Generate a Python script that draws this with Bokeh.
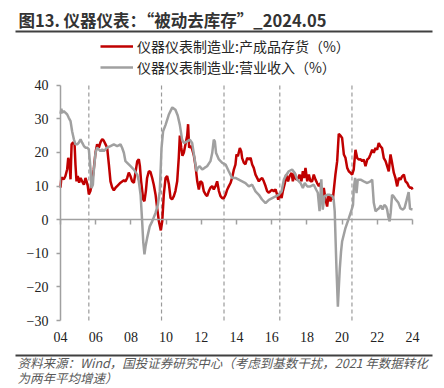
from bokeh.plotting import figure
from bokeh.models import (ColumnDataSource, Label, Legend, LegendItem, LinearAxis,
                          FixedTicker, BoxAnnotation, Range1d, CustomJSTickFormatter)
from bokeh.embed import file_html
from bokeh.resources import INLINE

# ---------------- data ----------------
inv_years = [2004.00, 2004.05, 2004.09, 2004.19, 2004.28, 2004.38, 2004.44, 2004.51, 2004.57, 2004.63,
             2004.72, 2004.80, 2004.85, 2004.91, 2004.98, 2005.06, 2005.14, 2005.23, 2005.33, 2005.42,
             2005.48, 2005.55, 2005.61, 2005.70, 2005.80, 2005.89, 2005.99, 2006.08, 2006.18, 2006.27,
             2006.37, 2006.46, 2006.56, 2006.65, 2006.75, 2006.84, 2006.94, 2007.03, 2007.13, 2007.22,
             2007.41, 2007.60, 2007.69, 2007.79, 2007.88, 2007.98, 2008.07, 2008.17, 2008.26, 2008.36,
             2008.45, 2008.51, 2008.58, 2008.70, 2008.77, 2008.85, 2008.92, 2009.02, 2009.11, 2009.21,
             2009.30, 2009.40, 2009.49, 2009.59, 2009.70, 2009.78, 2009.87, 2009.97, 2010.06, 2010.16,
             2010.25, 2010.34, 2010.44, 2010.53, 2010.63, 2010.72, 2010.78, 2010.86, 2010.93, 2011.01,
             2011.10, 2011.20, 2011.25, 2011.31, 2011.39, 2011.48, 2011.58, 2011.67, 2011.77, 2011.86,
             2011.95, 2012.05, 2012.14, 2012.24, 2012.33, 2012.43, 2012.52, 2012.62, 2012.71, 2012.81,
             2012.90, 2013.00, 2013.09, 2013.19, 2013.28, 2013.38, 2013.47, 2013.56, 2013.66, 2013.75,
             2013.85, 2013.94, 2014.00, 2014.08, 2014.19, 2014.27, 2014.32, 2014.42, 2014.51, 2014.61,
             2014.70, 2014.80, 2014.89, 2014.98, 2015.08, 2015.27, 2015.36, 2015.46, 2015.55, 2015.65,
             2015.74, 2015.84, 2015.93, 2016.03, 2016.12, 2016.22, 2016.31, 2016.37, 2016.46, 2016.56,
             2016.63, 2016.75, 2016.82, 2016.93, 2017.01, 2017.13, 2017.20, 2017.31, 2017.39, 2017.51,
             2017.58, 2017.69, 2017.77, 2017.84, 2017.92, 2018.02, 2018.11, 2018.20, 2018.30, 2018.39,
             2018.49, 2018.58, 2018.68, 2018.77, 2018.87, 2018.96, 2019.06, 2019.15, 2019.23, 2019.34,
             2019.40, 2019.47, 2019.55, 2019.62, 2019.72, 2019.78, 2019.81, 2019.91, 2020.00, 2020.10,
             2020.19, 2020.29, 2020.38, 2020.48, 2020.57, 2020.66, 2020.76, 2020.86, 2020.95, 2021.05,
             2021.14, 2021.23, 2021.33, 2021.43, 2021.52, 2021.61, 2021.71, 2021.80, 2021.90, 2021.99,
             2022.08, 2022.18, 2022.27, 2022.37, 2022.47, 2022.56, 2022.65, 2022.75, 2022.84, 2022.94,
             2023.03, 2023.13, 2023.22, 2023.32, 2023.41, 2023.51, 2023.60, 2023.70, 2023.79, 2023.89,
             2023.95, 2024.00]
inv_values = [9.5, 12.5, 12.4, 12.0, 13.0, 15.0, 18.4, 16.9, 12.0, 22.4,
              23.0, 22.4, 16.4, 11.4, 13.0, 11.0, 12.4, 11.4, 10.4, 12.4,
              11.4, 10.0, 7.5, 8.5, 11.4, 15.0, 20.0, 22.4, 21.4, 23.0,
              24.0, 23.5, 22.4, 21.4, 16.4, 11.4, 9.5, 8.7, 9.5, 10.0,
              11.0, 11.7, 11.4, 12.4, 14.0, 12.9, 11.4, 11.0, 14.0, 17.4,
              18.0, 16.0, 11.4, 6.0, 5.5, 8.5, 12.4, 14.4, 14.2, 12.4,
              10.4, 7.5, 3.5, -0.5, -3.2, -0.5, 7.5, 12.4, 13.0, 10.5,
              6.5, 6.0, 7.0, 8.5, 11.4, 18.4, 25.0, 21.4, 19.0, 20.0,
              22.4, 25.0, 28.4, 21.4, 22.0, 21.0, 19.0, 16.0, 11.4, 9.0,
              11.4, 11.0, 8.5, 7.5, 7.0, 8.5, 9.5, 10.0, 9.0, 10.0,
              11.4, 8.5, 7.0, 6.4, 6.4, 7.4, 8.9, 9.9, 10.9, 12.4,
              14.9, 16.4, 19.4, 18.9, 21.3, 20.3, 18.3, 16.9, 16.5, 18.4,
              17.9, 18.4, 16.4, 15.4, 13.4, 11.4, 12.0, 12.4, 11.4, 10.0,
              8.5, 8.0, 8.5, 8.9, 8.4, 9.0, 7.4, 5.9, 7.9, 6.4,
              8.4, 10.9, 13.4, 11.4, 12.9, 13.9, 11.4, 13.9, 11.9, 12.4,
              13.4, 11.4, 14.4, 12.4, 15.4, 11.4, 13.4, 11.4, 11.4, 13.4,
              11.9, 10.9, 10.0, 10.9, 6.9, 9.4, 5.9, 3.9, 7.4, 5.4,
              7.4, 5.9, 9.9, 13.4, 17.4, 22.8, 25.5, 25.0, 24.3, 19.4,
              18.4, 15.4, 14.4, 13.9, 13.4, 14.9, 20.8, 18.3, 17.9, 18.0,
              17.4, 17.9, 15.9, 17.9, 18.3, 19.4, 20.8, 19.9, 21.3, 20.8,
              22.8, 21.8, 21.3, 18.3, 17.4, 15.9, 14.4, 19.4, 16.9, 13.9,
              12.4, 9.9, 12.4, 11.9, 12.9, 13.4, 11.4, 10.9, 9.9, 9.4,
              9.6, 9.0]

rev_years = [2004.00, 2004.05, 2004.09, 2004.19, 2004.28, 2004.38, 2004.47, 2004.57, 2004.66, 2004.76,
             2004.85, 2004.95, 2005.04, 2005.14, 2005.23, 2005.33, 2005.42, 2005.52, 2005.61, 2005.70,
             2005.76, 2005.84, 2005.89, 2005.99, 2006.08, 2006.18, 2006.27, 2006.37, 2006.46, 2006.65,
             2006.84, 2007.03, 2007.22, 2007.41, 2007.50, 2007.60, 2007.69, 2007.79, 2007.98, 2008.17,
             2008.36, 2008.45, 2008.55, 2008.64, 2008.70, 2008.77, 2008.83, 2008.92, 2009.07, 2009.21,
             2009.40, 2009.53, 2009.64, 2009.74, 2009.83, 2009.97, 2010.15, 2010.35, 2010.53, 2010.66,
             2010.78, 2010.91, 2011.01, 2011.20, 2011.35, 2011.48, 2011.57, 2011.67, 2011.73, 2011.80,
             2011.91, 2012.05, 2012.18, 2012.33, 2012.52, 2012.62, 2012.71, 2012.77, 2012.84, 2013.00,
             2013.19, 2013.38, 2013.56, 2013.75, 2013.94, 2014.13, 2014.32, 2014.51, 2014.70, 2014.89,
             2015.08, 2015.27, 2015.45, 2015.65, 2015.84, 2016.03, 2016.22, 2016.40, 2016.56, 2016.69,
             2016.78, 2016.97, 2017.16, 2017.31, 2017.45, 2017.64, 2017.77, 2017.88, 2018.02, 2018.20,
             2018.39, 2018.53, 2018.62, 2018.72, 2018.82, 2018.90, 2019.00, 2019.15, 2019.30, 2019.45,
             2019.52, 2019.58, 2019.62, 2019.68, 2019.76, 2019.81, 2019.87, 2019.94, 2020.00, 2020.19,
             2020.38, 2020.57, 2020.62, 2020.66, 2020.74, 2020.82, 2020.89, 2021.05, 2021.23, 2021.43,
             2021.61, 2021.71, 2021.80, 2021.90, 2022.00, 2022.10, 2022.20, 2022.30, 2022.40, 2022.50,
             2022.56, 2022.62, 2022.70, 2022.76, 2022.84, 2022.92, 2023.05, 2023.20, 2023.32, 2023.45,
             2023.55, 2023.65, 2023.78, 2023.86, 2024.00]
rev_values = [31.5, 33.0, 31.8, 32.3, 31.8, 31.3, 30.3, 29.3, 26.3, 23.9,
              22.4, 22.4, 22.9, 23.9, 22.9, 21.9, 21.4, 21.4, 20.9, 15.4,
              9.4, 10.4, 14.4, 19.9, 21.4, 20.9, 20.4, 20.9, 20.4, 21.4,
              21.9, 22.4, 21.9, 22.4, 21.4, 19.9, 17.4, 16.9, 15.9, 14.9,
              13.4, 11.4, 7.4, -0.6, -6.5, -10.3, -8.0, -5.5, -2.0, -0.5,
              2.0, 4.4, 8.4, 21.3, 26.3, 28.2, 31.2, 33.4, 32.7, 31.0,
              28.2, 23.8, 22.8, 23.3, 23.8, 22.8, 19.8, 16.4, 14.4, 15.4,
              15.9, 14.9, 15.4, 15.9, 17.4, 19.8, 23.8, 23.3, 19.8, 17.9,
              16.9, 16.4, 14.4, 12.4, 12.4, 11.9, 11.4, 10.9, 9.9, 10.4,
              8.4, 7.4, 6.0, 4.9, 5.9, 6.4, 6.9, 7.4, 8.4, 11.9,
              12.9, 14.4, 14.9, 13.9, 11.9, 10.9, 9.4, 10.9, 9.9, 9.9,
              10.4, 8.9, 8.0, 2.5, 12.0, 3.0, 7.0, 7.4, 7.4, 7.0,
              6.0, 2.5, -4.4, -14.5, -25.9, -20.5, -14.5, -9.5, -6.5, -2.5,
              0.4, 3.4, 4.4, 8.9, 12.4, 7.9, 11.9, 11.9, 11.4, 10.9,
              11.4, 11.9, 5.0, 2.5, 3.0, 3.4, 4.2, 3.0, 4.4, 3.9,
              3.0, 1.0, -0.5, 2.0, 7.4, 7.0, 6.0, 5.0, 3.4, 3.0,
              3.5, 5.5, 8.2, 3.2, 3.0]

phase_dates = [2005.61, 2009.74, 2013.29, 2016.46, 2020.56]
tick_years = [2004, 2006, 2008, 2010, 2012, 2014, 2016, 2018, 2020, 2022, 2024]
tick_labels = ["04", "06", "08", "10", "12", "14", "16", "18", "20", "22", "24"]
y_ticks = [-30, -20, -10, 0, 10, 20, 30, 40]
x_min, x_max = 2004, 2024
y_min, y_max = -30, 40

title_text = "图13. 仪器仪表：“被动去库存”_2024.05"
inv_name = "仪器仪表制造业:产成品存货（%）"
rev_name = "仪器仪表制造业:营业收入（%）"
source_line1 = "资料来源：Wind，国投证券研究中心（考虑到基数干扰，2021 年数据转化"
source_line2 = "为两年平均增速）"

RED = "#C00000"
GREY = "#A0A0A0"
CJK = "Noto Sans CJK SC"
SERIF = "Liberation Serif"

W, H = 444, 388
# plot area in the reference: x 60..412 px, y 84.7..320 px
px_per_year = (412 - 60) / (x_max - x_min)
px_per_unit = (320 - 84.7) / (y_max - y_min)
xr = Range1d(x_min - 60 / px_per_year, x_max + (W - 412) / px_per_year)
yr = Range1d(y_min - (H - 320) / px_per_unit, y_max + 84.7 / px_per_unit)

p = figure(width=W, height=H, output_backend="svg", toolbar_location=None,
           x_range=xr, y_range=yr, x_axis_location=None, y_axis_location=None,
           min_border=0, min_border_left=0, min_border_right=0,
           min_border_top=0, min_border_bottom=0)
p.outline_line_color = None
p.xgrid.visible = False
p.ygrid.visible = False
p.background_fill_color = "white"
p.border_fill_color = "white"

# y axis (at the left edge of the plot area)
yax = LinearAxis(ticker=FixedTicker(ticks=y_ticks), fixed_location=x_min, bounds=(y_min, y_max))
yax.axis_line_color = GREY
yax.axis_line_width = 1.5
yax.major_tick_line_color = GREY
yax.major_tick_line_width = 1.5
yax.major_tick_out = 4
yax.major_tick_in = 0
yax.minor_tick_line_color = None
yax.major_label_standoff = 8
yax.major_label_text_font = SERIF
yax.major_label_text_font_size = "14px"
yax.major_label_text_color = "#222222"
p.add_layout(yax, "left")

# zero line with ticks
zax = LinearAxis(ticker=FixedTicker(ticks=tick_years), fixed_location=0, bounds=(x_min, x_max),
                 formatter=CustomJSTickFormatter(code="return ''"))
zax.axis_line_color = GREY
zax.axis_line_width = 1.5
zax.major_tick_line_color = GREY
zax.major_tick_line_width = 1.5
zax.major_tick_out = 5
zax.major_tick_in = 0
zax.minor_tick_line_color = None
zax.major_label_text_font_size = "0px"
p.add_layout(zax, "below")

# tick labels along the bottom of the plot area
xax = LinearAxis(ticker=FixedTicker(ticks=tick_years), fixed_location=y_min, bounds=(x_min, x_max))
xax.major_label_overrides = {t: l for t, l in zip(tick_years, tick_labels)}
xax.axis_line_color = None
xax.major_tick_line_color = None
xax.major_tick_out = 0
xax.major_tick_in = 0
xax.minor_tick_line_color = None
xax.major_label_standoff = 11
xax.major_label_text_font = SERIF
xax.major_label_text_font_size = "14px"
xax.major_label_text_color = "#222222"
p.add_layout(xax, "below")

# phase markers
src_ph = ColumnDataSource(dict(x=phase_dates, y0=[y_min] * len(phase_dates),
                               y1=[y_max] * len(phase_dates)))
p.segment(x0="x", y0="y0", x1="x", y1="y1", source=src_ph, line_color="#9A9A9A",
          line_dash="4 3", line_width=1.2)

src_inv = ColumnDataSource(dict(x=inv_years, y=inv_values))
src_rev = ColumnDataSource(dict(x=rev_years, y=rev_values))
r_inv = p.line("x", "y", source=src_inv, line_color=RED, line_width=2.5)
r_rev = p.line("x", "y", source=src_rev, line_color=GREY, line_width=2.5)

legend = Legend(items=[LegendItem(label=inv_name, renderers=[r_inv]),
                       LegendItem(label=rev_name, renderers=[r_rev])],
                location=(100, 311), orientation="vertical",
                glyph_width=33, glyph_height=20, label_standoff=4, spacing=1,
                padding=0, margin=0, border_line_alpha=0, background_fill_alpha=0,
                label_text_font=CJK, label_text_font_size="14px",
                label_text_color="#262626")
p.add_layout(legend, "center")

# title and rule
p.add_layout(Label(x=18, y=19.5, x_units="canvas", y_units="canvas", text=title_text,
                   text_font=CJK, text_font_size="16.5px", text_font_style="bold",
                   text_color="#333333", text_baseline="middle"))
p.add_layout(BoxAnnotation(left=15, right=432, top=30, bottom=32,
                           left_units="canvas", right_units="canvas",
                           top_units="canvas", bottom_units="canvas",
                           fill_color="#404040", fill_alpha=1, line_alpha=0))
# footer
p.add_layout(BoxAnnotation(left=15, right=432, top=354, bottom=356,
                           left_units="canvas", right_units="canvas",
                           top_units="canvas", bottom_units="canvas",
                           fill_color="#404040", fill_alpha=1, line_alpha=0))
p.add_layout(Label(x=17, y=362, x_units="canvas", y_units="canvas", text=source_line1,
                   text_font=CJK, text_font_size="12.5px", text_font_style="italic",
                   text_color="#595959", text_baseline="middle"))
p.add_layout(Label(x=17, y=377, x_units="canvas", y_units="canvas", text=source_line2,
                   text_font=CJK, text_font_size="12.5px", text_font_style="italic",
                   text_color="#595959", text_baseline="middle"))

open("out.html", "w").write(file_html(p, INLINE))
